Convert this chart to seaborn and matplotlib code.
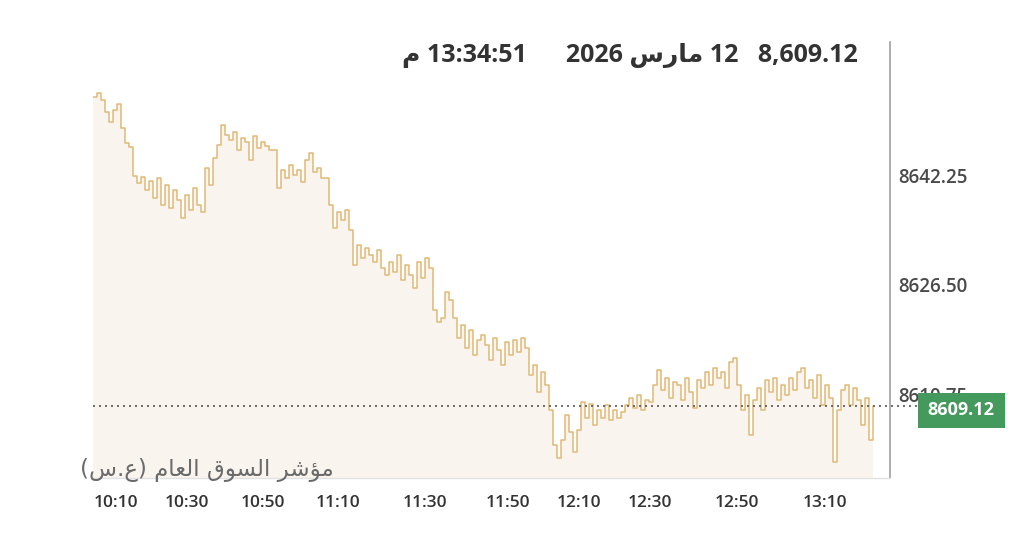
import matplotlib

matplotlib.use("Agg")
import matplotlib.pyplot as plt
import matplotlib.patches as mpatches
import numpy as np
import pandas as pd
import seaborn as sns

# index level, one sample every few minutes
prices = [
    8653.42, 8653.99, 8652.99, 8651.27, 8649.84, 8651.56, 8652.42, 8648.98, 8646.83, 8646.26,
    8642.11, 8641.10, 8641.96, 8640.10, 8641.39, 8638.96, 8641.82, 8637.95, 8640.82, 8637.52,
    8640.10, 8638.67, 8636.09, 8639.39, 8637.24, 8640.39, 8637.95, 8636.95, 8643.25, 8640.82,
    8644.68, 8646.55, 8649.41, 8647.98, 8647.26, 8648.41, 8645.83, 8647.55, 8646.98, 8644.40,
    8647.83, 8646.12, 8646.98, 8646.40, 8645.83, 8645.83, 8640.39, 8642.97, 8641.82, 8643.68,
    8642.25, 8642.97, 8641.25, 8644.40, 8645.40, 8642.68, 8643.25, 8641.82, 8641.82, 8637.95,
    8634.66, 8636.95, 8635.81, 8637.24, 8634.37, 8629.36, 8632.23, 8630.36, 8631.80, 8630.79,
    8629.79, 8631.51, 8628.93, 8627.93, 8629.79, 8628.36, 8630.79, 8627.21, 8629.36, 8627.93,
    8626.07, 8629.79, 8627.50, 8630.36, 8628.93, 8622.92, 8621.20, 8621.77, 8625.50, 8624.35,
    8621.77, 8618.91, 8620.77, 8617.48, 8620.05, 8616.47, 8618.62, 8619.34, 8617.91, 8615.76,
    8618.91, 8617.19, 8615.04, 8618.34, 8616.47, 8618.62, 8616.90, 8618.91, 8617.48, 8613.61,
    8615.04, 8611.18, 8614.04, 8612.18, 8608.60, 8603.59, 8601.72, 8604.30, 8607.88, 8605.45,
    8602.58, 8605.73, 8609.74, 8607.45, 8609.46, 8606.45, 8608.60, 8607.45, 8609.31, 8607.17,
    8608.60, 8607.45, 8608.31, 8609.31, 8610.32, 8608.88, 8610.75, 8608.60, 8610.03, 8609.74,
    8612.18, 8614.33, 8611.46, 8613.18, 8610.32, 8612.61, 8612.18, 8610.03, 8613.18, 8611.18,
    8608.88, 8612.89, 8611.75, 8614.04, 8612.18, 8614.61, 8613.18, 8614.04, 8611.75, 8615.47,
    8616.04, 8612.18, 8608.60, 8610.75, 8605.02, 8610.03, 8611.75, 8608.60, 8612.89, 8611.18,
    8613.18, 8610.03, 8612.18, 8610.75, 8613.18, 8611.46, 8614.04, 8614.61, 8611.75, 8612.89,
    8610.32, 8613.61, 8609.31, 8612.18, 8610.32, 8601.15, 8608.60, 8611.46, 8612.18, 8609.31,
    8611.75, 8610.03, 8606.45, 8610.32, 8604.30, 8609.12,
]
last_price = 8609.12

# x labels sit at uneven sample positions on the original chart
time_labels = ["10:10", "10:30", "10:50", "11:10", "11:30", "11:50", "12:10", "12:30", "12:50", "13:10"]
time_pos = [5.75, 23.5, 42.5, 61.25, 83.0, 103.75, 121.5, 139.25, 161.0, 183.0]
y_ticks = [8610.75, 8626.50, 8642.25]

# Arabic written in presentation forms, visual order (no shaping engine in matplotlib)
header = "\uFEE1 13:34:51      2026 \uFEB1\uFEAD\uFE8E\uFEE3 12   8,609.12"
watermark = "(\uFEB1.\uFEC9) \uFEE1\uFE8E\uFECC\uFEDF\uFE8D \uFED5\uFEEE\uFEB4\uFEDF\uFE8D \uFEAE\uFEB7\uFE86\uFEE3"

LINE = "#dbae60"
FILL = "#faf4ee"
GREEN = "#44995c"
TEXT = "#333333"

sns.set_theme(style="white")
plt.rcParams["font.family"] = ["Open Sans", "DejaVu Sans"]

df = pd.DataFrame({"i": np.arange(len(prices)), "price": prices})
ymin, ymax = 8598.86, 8661.3

fig = plt.figure(figsize=(10.24, 5.54), dpi=100)
fig.patch.set_facecolor("white")
ax = fig.add_axes([93 / 1024, 76 / 554, 797 / 1024, 436 / 554])

ax.fill_between(df["i"], df["price"], ymin, color=FILL, lw=0, step="post")
sns.lineplot(data=df, x="i", y="price", ax=ax, color=LINE, linewidth=1.1, alpha=0.85,
             drawstyle="steps-post")

ax.set_xlim(0, 199.25)
ax.set_ylim(ymin, ymax)
ax.set_xlabel("")
ax.set_ylabel("")

ax.set_xticks(time_pos)
ax.set_xticklabels(time_labels, fontsize=12.5, fontweight="semibold", color=TEXT)
ax.yaxis.tick_right()
ax.set_yticks(y_ticks)
ax.set_yticklabels([f"{v:.2f}" for v in y_ticks], fontsize=13.5, fontweight="semibold", color="#4a4a4a")
ax.tick_params(axis="x", length=0, pad=12)
ax.tick_params(axis="y", length=0, pad=6)

for side in ["top", "left"]:
    ax.spines[side].set_visible(False)
ax.spines["right"].set_color("#a0a0a0")
ax.spines["right"].set_linewidth(1.2)
ax.spines["bottom"].set_color("#e2e2e2")
ax.spines["bottom"].set_linewidth(1.0)

# dotted last-price line running out to the label box
ax.plot([0, 1.035], [last_price, last_price], transform=ax.get_yaxis_transform(),
        color="#555555", lw=1.2, ls=(0, (1.2, 2.4)), clip_on=False, zorder=3)

box = mpatches.Rectangle((918 / 1024, 1 - 428 / 554), 87 / 1024, 35 / 554,
                         transform=fig.transFigure, facecolor=GREEN, edgecolor="none", zorder=5)
fig.patches.append(box)
fig.text(961 / 1024, 1 - 410 / 554, f"{last_price:.2f}", ha="center", va="center",
         fontsize=13, fontweight="bold", color="white", zorder=6)

fig.text(858 / 1024, 1 - 55 / 554, header, ha="right", va="center",
         fontsize=18, fontweight="bold", color=TEXT)
fig.text(80 / 1024, 1 - 470 / 554, watermark, ha="left", va="center",
         fontsize=16.5, color="#6a6a6a", family=["DejaVu Sans"])

fig.savefig("out.png", dpi=100)
